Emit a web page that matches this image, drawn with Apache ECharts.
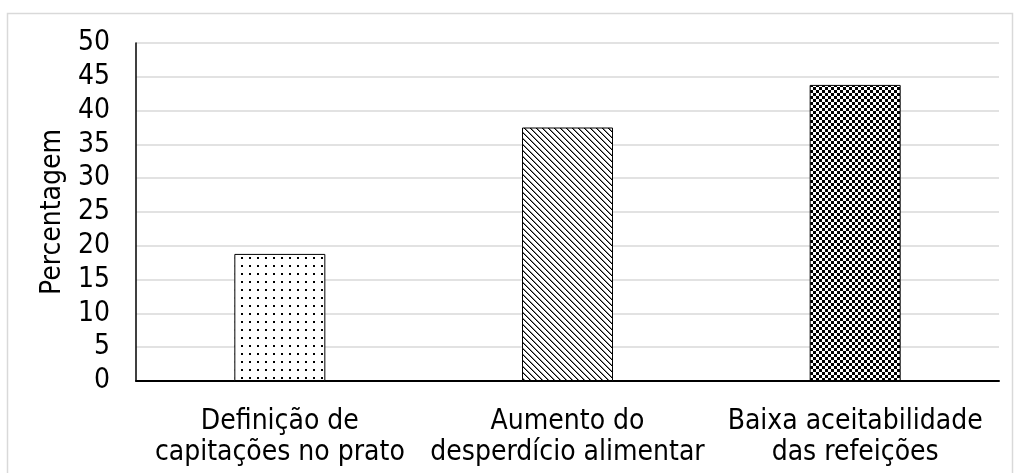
<!DOCTYPE html>
<html>
<head>
<meta charset="utf-8">
<script src="https://cdn.jsdelivr.net/npm/echarts@6/dist/echarts.min.js"></script>
<style>html,body{margin:0;padding:0;background:#fff}#c{width:1014px;height:473px}</style>
</head>
<body>
<div id="c"></div>
<script>
var categories = ['Definição de\ncapitações no prato', 'Aumento do\ndesperdício alimentar', 'Baixa aceitabilidade\ndas refeições'];
var values = [18.8, 37.5, 43.8];
var yTicks = [0, 5, 10, 15, 20, 25, 30, 35, 40, 45, 50];
var yName = 'Percentagem';

function tile(w, h, draw) {
  var c = document.createElement('canvas');
  c.width = w; c.height = h;
  var ctx = c.getContext('2d');
  ctx.fillStyle = '#fff'; ctx.fillRect(0, 0, w, h);
  draw(ctx);
  return c;
}
var dots = tile(8, 8, function (ctx) { ctx.fillStyle = '#000'; ctx.fillRect(1, 1, 2, 2); });
var diag = tile(6, 6, function (ctx) {
  for (var i = 0; i < 6; i++) {
    ctx.fillStyle = '#000'; ctx.fillRect(i, i, 1, 1);
    ctx.fillStyle = '#888'; ctx.fillRect((i + 1) % 6, i, 1, 1);
  }
});
var check = tile(6, 6, function (ctx) {
  ctx.fillStyle = '#000'; ctx.fillRect(0, 0, 3, 3); ctx.fillRect(3, 3, 3, 3);
});
var patterns = [dots, diag, check];

var FONT = "'DejaVu Sans Condensed', 'DejaVu Sans', sans-serif";
var chart = echarts.init(document.getElementById('c'), null, {renderer: 'canvas'});
chart.setOption({
  animation: false,
  backgroundColor: '#fff',
  graphic: [{
    type: 'rect', silent: true,
    shape: {x: 7.5, y: 13.5, width: 1005, height: 500},
    style: {fill: 'none', stroke: '#d9d9d9', lineWidth: 1.5}
  }],
  grid: {left: 136, right: 15, top: 43, bottom: 92},
  xAxis: {
    type: 'category',
    data: categories,
    axisLine: {lineStyle: {color: '#000', width: 2}},
    axisTick: {show: false},
    axisLabel: {color: '#000', fontSize: 28, fontFamily: FONT, lineHeight: 31, margin: 25, interval: 0}
  },
  yAxis: {
    type: 'value',
    min: yTicks[0], max: yTicks[yTicks.length - 1], interval: 5,
    name: yName, nameLocation: 'middle', nameGap: 62, nameRotate: 90,
    nameTextStyle: {color: '#000', fontSize: 28, fontFamily: FONT},
    axisLine: {show: true, lineStyle: {color: '#000', width: 1.5}},
    axisTick: {show: false},
    axisLabel: {color: '#000', fontSize: 28, fontFamily: FONT, margin: 26},
    splitLine: {lineStyle: {color: '#d9d9d9', width: 1.5}}
  },
  series: [{
    type: 'bar',
    barWidth: 91,
    data: values.map(function (v, i) {
      return {value: v, itemStyle: {color: {image: patterns[i], repeat: 'repeat'}, borderColor: '#000', borderWidth: 1}};
    })
  }]
});
</script>
</body>
</html>
